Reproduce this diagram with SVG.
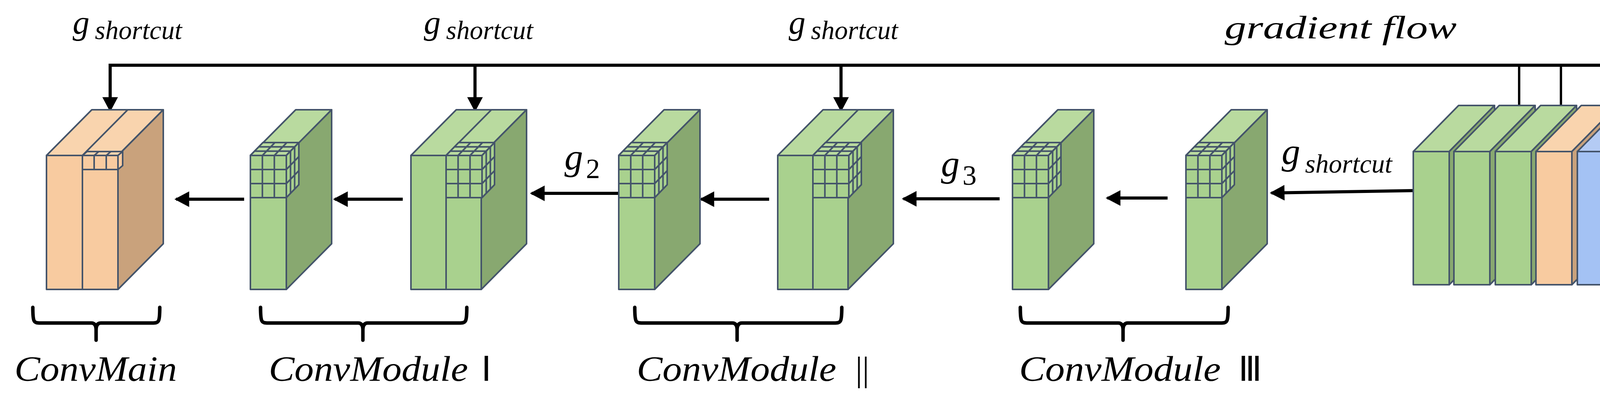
<svg xmlns="http://www.w3.org/2000/svg" xmlns:xlink="http://www.w3.org/1999/xlink" width="4253" height="1019" viewBox="0 0 4253 1019">
<style>
.e{stroke:#44546a;stroke-width:4;stroke-linejoin:round}
.gf{fill:#a9d18e}.gt{fill:#b9da9f}.gs{fill:#88a870}
.of{fill:#f8cba0}.ot{fill:#f9d4ae}.os{fill:#c9a27c}
.bf{fill:#a4c2f4}.bt{fill:#b4cbf4}.bs{fill:#8aa0c6}
.gl{stroke:#44546a;stroke-width:4;fill:none}
.c{stroke:#000;stroke-width:8;fill:none}
.br{stroke:#000;stroke-width:9;fill:none;stroke-linecap:round}
.t{font-family:"Liberation Serif",serif;font-style:italic;fill:#000}
.s{font-family:"Liberation Serif",serif;font-style:italic;fill:#000;font-size:68px}
.r{font-family:"Liberation Serif",serif;font-style:normal;fill:#000}
</style>
<defs>
<marker id="ah" markerUnits="userSpaceOnUse" markerWidth="40" markerHeight="40" viewBox="0 0 34 36" refX="30" refY="18" orient="auto">
<path d="M0,0 L34,18 L0,36 Z" fill="#000"/>
</marker>
<g id="grid">
<rect class="e gf" x="0" y="0" width="92" height="108"/>
<path class="e gt" d="M0,0 L32,-33 L124,-33 L92,0 Z"/>
<path class="e gf" d="M92,0 L124,-33 L124,75 L92,108 Z"/>
<path class="gl" d="M30.7,0V108M61.3,0V108M0,36H92M0,72H92M30.7,0L62.7,-33M61.3,0L93.3,-33M10.7,-11H102.7M21.3,-22H113.3M102.7,-11V97M113.3,-22V86M92,36L124,3M92,72L124,39"/>
</g>
<g id="gs1">
<path class="e gt" d="M0,398 L116,281 L208,281 L92,398 Z"/>
<path class="e gs" d="M92,398 L208,281 L208,624 L92,741 Z"/>
<rect class="e gf" x="0" y="398" width="92" height="343"/>
</g>
<g id="gs2">
<path class="e gt" d="M0,398 L116,281 L296,281 L180,398 Z"/>
<path class="e gs" d="M180,398 L296,281 L296,624 L180,741 Z"/>
<rect class="e gf" x="0" y="398" width="180" height="343"/>
<path class="gl" d="M90,398V741M90,398L206,281"/>
</g>
</defs>
<g id="connectors">
<path class="c" d="M282,167 H4101"/>
<path class="c" d="M282,163 V282" marker-end="url(#ah)"/>
<path class="c" d="M1216,167 V282" marker-end="url(#ah)"/>
<path class="c" d="M2153,167 V282" marker-end="url(#ah)"/>
<path class="c" style="stroke-width:6" d="M3889,167V272M3996,167V272M4101,163V272"/>
<path class="c" d="M625,510 H451" marker-end="url(#ah)"/>
<path class="c" d="M1031,510 H857" marker-end="url(#ah)"/>
<path class="c" d="M1584,495 H1361" marker-end="url(#ah)"/>
<path class="c" d="M1969,510 H1795" marker-end="url(#ah)"/>
<path class="c" d="M2559,509 H2313" marker-end="url(#ah)"/>
<path class="c" d="M2989,507 H2835" marker-end="url(#ah)"/>
<path class="c" d="M3618,488 L3255,494" marker-end="url(#ah)"/>
</g>
<g id="convmain">
<path class="e ot" d="M119,398 L235,281 L418,281 L302,398 Z"/>
<path class="e os" d="M302,398 L418,281 L418,624 L302,741 Z"/>
<rect class="e of" x="119" y="398" width="183" height="343"/>
<path class="gl" d="M211,398V741M211,398L327,281"/>
<rect class="e of" x="211" y="398" width="91" height="36"/>
<path class="e ot" d="M211,398 L223,388 L314,388 L302,398 Z"/>
<path class="e of" d="M302,398 L314,388 L314,424 L302,434 Z"/>
<path class="gl" d="M241,398V434M272,398V434M241,398L253,388M272,398L284,388"/>
</g>
<g id="m1a"><use xlink:href="#gs1" transform="translate(641,0)"/><use xlink:href="#grid" transform="translate(641,398)"/></g>
<g id="m1b"><use xlink:href="#gs2" transform="translate(1052,0)"/><use xlink:href="#grid" transform="translate(1142,398)"/></g>
<g id="m2a"><use xlink:href="#gs1" transform="translate(1584,0)"/><use xlink:href="#grid" transform="translate(1584,398)"/></g>
<g id="m2b"><use xlink:href="#gs2" transform="translate(1991,0)"/><use xlink:href="#grid" transform="translate(2081,398)"/></g>
<g id="m3a"><use xlink:href="#gs1" transform="translate(2592,0)"/><use xlink:href="#grid" transform="translate(2592,398)"/></g>
<g id="m3b"><use xlink:href="#gs1" transform="translate(3036,0)"/><use xlink:href="#grid" transform="translate(3036,398)"/></g>
<g id="stack">
<path class="e gt" d="M3618,388 L3734,270 L3826,270 L3710,388 Z"/><path class="e gs" d="M3710,388 L3826,270 L3826,611 L3710,729 Z"/><rect class="e gf" x="3618" y="388" width="92" height="341"/>
<path class="e gt" d="M3722,388 L3838,270 L3930,270 L3814,388 Z"/><path class="e gs" d="M3814,388 L3930,270 L3930,611 L3814,729 Z"/><rect class="e gf" x="3722" y="388" width="92" height="341"/>
<path class="e gt" d="M3828,388 L3944,270 L4036,270 L3920,388 Z"/><path class="e gs" d="M3920,388 L4036,270 L4036,611 L3920,729 Z"/><rect class="e gf" x="3828" y="388" width="92" height="341"/>
<path class="e ot" d="M3932,388 L4048,270 L4140,270 L4024,388 Z"/><path class="e os" d="M4024,388 L4140,270 L4140,611 L4024,729 Z"/><rect class="e of" x="3932" y="388" width="92" height="341"/>
<path class="e bt" d="M4038,388 L4154,270 L4248,270 L4132,388 Z"/><path class="e bs" d="M4132,388 L4248,270 L4248,611 L4132,729 Z"/><rect class="e bf" x="4038" y="388" width="94" height="341"/>
</g>
<g id="braces">
<path class="br" d="M84,787 C84,825 86,827 104,827 L234,827 Q246,827 246,845 L246,871 M246,845 Q246,827 258,827 L389,827 C407,827 409,825 409,787"/>
<path class="br" d="M667,787 C667,825 669,827 687,827 L917,827 Q929,827 929,845 L929,871 M929,845 Q929,827 941,827 L1175,827 C1193,827 1195,825 1195,787"/>
<path class="br" d="M1625,787 C1625,825 1627,827 1645,827 L1875,827 Q1887,827 1887,845 L1887,871 M1887,845 Q1887,827 1899,827 L2135,827 C2153,827 2155,825 2155,787"/>
<path class="br" d="M2612,787 C2612,825 2614,827 2632,827 L2863,827 Q2875,827 2875,845 L2875,871 M2875,845 Q2875,827 2887,827 L3124,827 C3142,827 3144,825 3144,787"/>
</g>
<g id="labels">
<text class="t" x="186" y="86" font-size="86">g</text><text class="s" x="243" y="100">shortcut</text>
<text class="t" x="1085" y="86" font-size="86">g</text><text class="s" x="1142" y="100">shortcut</text>
<text class="t" x="2019" y="86" font-size="86">g</text><text class="s" x="2076" y="100">shortcut</text>
<text class="t" x="3281" y="420" font-size="95">g</text><text class="s" x="3341" y="442">shortcut</text>
<text class="t" x="3135" y="98" font-size="82" textLength="594" lengthAdjust="spacingAndGlyphs">gradient flow</text>
<text class="t" x="1445" y="434" font-size="95">g</text><text class="r" x="1500" y="456" font-size="72">2</text>
<text class="t" x="2409" y="451" font-size="95">g</text><text class="r" x="2464" y="473" font-size="72">3</text>
<text class="t" x="37" y="975" font-size="92" textLength="416" lengthAdjust="spacingAndGlyphs">ConvMain</text>
<text class="t" x="688" y="975" font-size="92" textLength="510" lengthAdjust="spacingAndGlyphs">ConvModule</text><text class="r" x="1232" y="975" font-size="88">Ⅰ</text>
<text class="t" x="1630" y="975" font-size="92" textLength="511" lengthAdjust="spacingAndGlyphs">ConvModule</text><text class="r" x="2190" y="975" font-size="88">||</text>
<text class="t" x="2609" y="975" font-size="92" textLength="516" lengthAdjust="spacingAndGlyphs">ConvModule</text><text class="r" x="3170" y="975" font-size="88">Ⅲ</text>
</g>
</svg>
